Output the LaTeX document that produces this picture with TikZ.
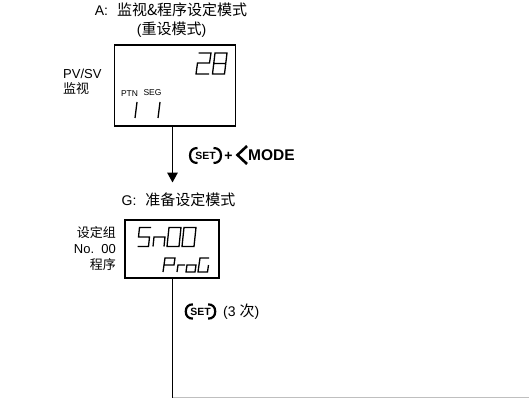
\documentclass[tikz,border=0pt]{standalone}
\usepackage{fontspec}
\setmainfont{Liberation Sans}
\newfontfamily\cjk{Noto Sans CJK SC}
\usetikzlibrary{arrows.meta}
\newcommand{\zh}[1]{{\cjk #1}}
\newcommand{\zhb}[1]{{\fontsize{15pt}{17pt}\selectfont\cjk #1}}
\tikzset{
 x=1pt,y=-1pt,
 lbl/.style={inner sep=0pt,font=\fontsize{14pt}{15pt}\selectfont,align=center},
 lblr/.style={inner sep=0pt,font=\fontsize{13pt}{16pt}\selectfont,align=right,anchor=east},
 small/.style={inner sep=0pt,font=\fontsize{8.5pt}{9pt}\selectfont},
 disp/.style={draw,line width=1.3pt,fill=white,inner sep=0pt},
 conn/.style={line width=1.7pt},
 seg/.style={line width=1.3pt,line cap=butt,line join=miter},
 keyarc/.style={line width=2.2pt},
}
\begin{document}
\begin{tikzpicture}
\useasboundingbox (0,0) rectangle (529,398);
\node[lbl] (ta) at (171,10) {A:\hspace{9pt}\zhb{监视\&程序设定模式}};
\node[lbl] (tb) at (171.5,30) {(\zhb{重设模式})};
\node[disp,minimum width=121pt,minimum height=81pt] (boxa) at (175,85.5) {};
\node[inner sep=0pt,align=left,anchor=west,font=\fontsize{13pt}{15pt}\selectfont] (pv) at (63,81.5) {PV/SV\\\zh{监视}};
\node[small,anchor=center] (ptn) at (129.5,93.5) {PTN};
\node[small,anchor=center] (sg) at (152.5,93) {SEG};
% 28
\draw[seg] (198.5,53) -- (211,53) -- (209.5,63) -- (197.5,63) -- (196,74) -- (209,74);
\draw[seg] (215,53) -- (227,53) -- (224.5,74) -- (212.5,74) -- cycle (214,63.5) -- (226,63.5);
% 11
\draw[seg] (137,102) -- (135,118);
\draw[seg] (160,102) -- (158,118);
\node[disp,minimum width=94pt,minimum height=58pt] (boxg) at (172,249) {};
\node[lblr] (gl) at (116,249) {\zh{设定组}\\No.\ \ 00\\\zh{程序}};
% Sn00
\draw[seg] (151,227.5) -- (139.5,227.5) -- (138.5,237) -- (149.5,237) -- (148.5,246.5) -- (137.5,246.5);
\draw[seg] (153,246.5) -- (154,237) -- (165,237) -- (164,246.5);
\draw[seg] (169,227.5) -- (181,227.5) -- (179,246.5) -- (167,246.5) -- cycle;
\draw[seg] (184,227.5) -- (196,227.5) -- (194,246.5) -- (182,246.5) -- cycle;
% ProG
\draw[seg] (163,272) -- (165,258) -- (175,258) -- (174,265) -- (164,265);
\draw[seg] (177,272) -- (178,265) -- (185,265);
\draw[seg] (187,265) -- (196,265) -- (195,272) -- (186,272) -- cycle;
\draw[seg] (209,258) -- (200,258) -- (198,272) -- (207.5,272) -- (208.5,265);
% connectors
\coordinate (endl) at (172.5,398);
\coordinate (botr) at (529,397.5);
\coordinate (atop) at (172.5,126);
\coordinate (gtop) at (172.5,182.5);
\coordinate (gbot) at (172.5,278);
\draw[conn,-{Triangle[length=10pt,width=10.5pt]}] (atop) -- (gtop);
\draw[conn] (gbot) -- (endl);
\draw[line width=0.8pt,black!25] (endl |- botr) -- (botr);
\node[lbl] (tg) at (178.5,200) {G:\hspace{9pt}\zhb{准备设定模式}};
% SET keys
\foreach \nm/\cx/\cy/\sc in {k1/205.5/155.5/1,k2/200.5/311.5/0.95}{
 \begin{scope}[shift={(\cx,\cy)},scale=\sc]
 \draw[keyarc] (-8,-7.5) .. controls (-12.5,-7.5) and (-15.5,-5) .. (-15.5,0) .. controls (-15.5,5) and (-12.5,7.5) .. (-8,7.5);
 \draw[keyarc] (8,-7.5) .. controls (12.5,-7.5) and (15.5,-5) .. (15.5,0) .. controls (15.5,5) and (12.5,7.5) .. (8,7.5);
 \node[inner sep=0pt,font=\bfseries\fontsize{10.5pt}{11pt}\selectfont] (\nm) at (0,0) {SET};
 \end{scope}
}
\node[inner sep=0pt,font=\bfseries\fontsize{14pt}{15pt}\selectfont] (pl) at (228.5,156) {+};
\draw[line width=2.6pt] (247,146) -- (237.5,155) -- (247,164);
\node[inner sep=0pt,anchor=west,font=\bfseries\fontsize{15.5pt}{16pt}\selectfont] (md) at (248,155.5) {MODE};
\node[inner sep=0pt,anchor=west,font=\fontsize{14pt}{15pt}\selectfont] (ci) at (223,312) {(3 \zhb{次})};
\end{tikzpicture}
\end{document}
